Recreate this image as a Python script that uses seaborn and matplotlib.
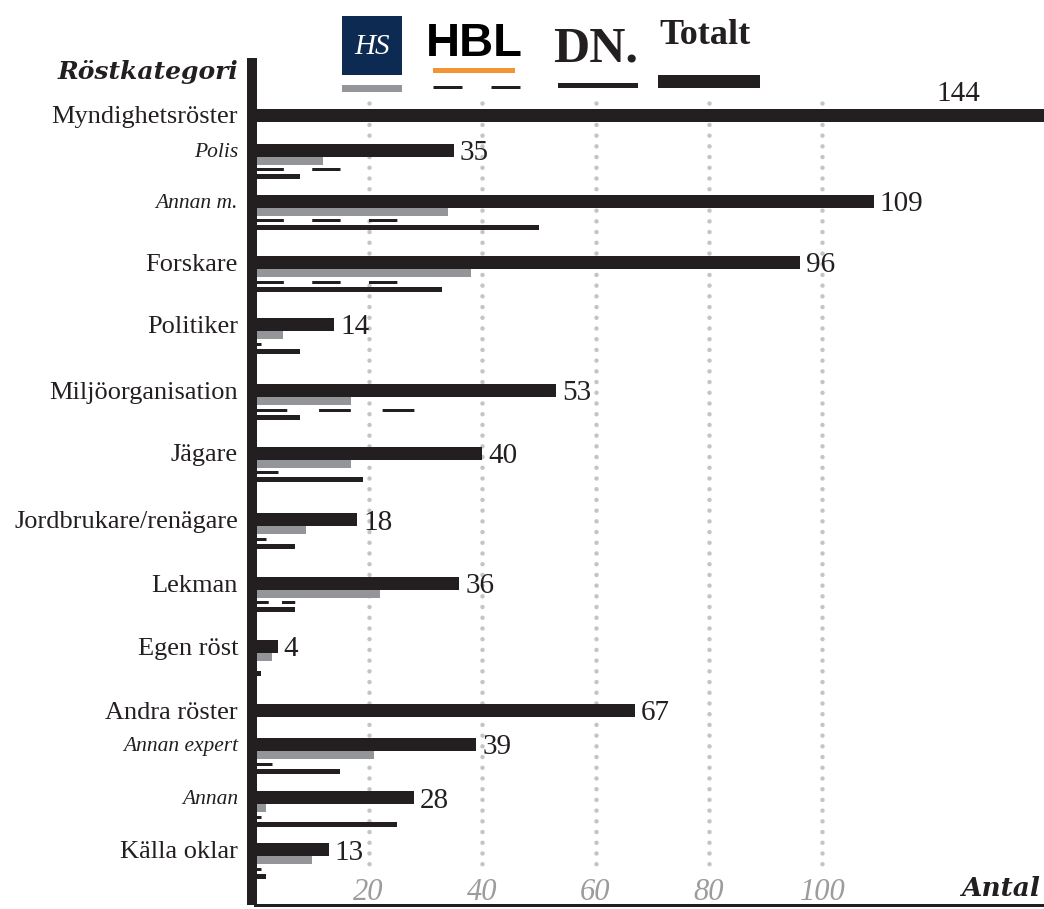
import matplotlib
matplotlib.use("Agg")
import matplotlib.pyplot as plt
import seaborn as sns
import pandas as pd
import numpy as np
from matplotlib.patches import Rectangle
from matplotlib.lines import Line2D

# ---- data ----
categories = ["Myndighetsröster", "Polis", "Annan m.", "Forskare", "Politiker",
              "Miljöorganisation", "Jägare", "Jordbrukare/renägare", "Lekman",
              "Egen röst", "Andra röster", "Annan expert", "Annan", "Källa oklar"]
is_sub = [False, True, True, False, False, False, False, False, False,
          False, False, True, True, False]
totalt = [144, 35, 109, 96, 14, 53, 40, 18, 36, 4, 67, 39, 28, 13]
hs = [np.nan, 12, 34, 38, 5, 17, 17, 9, 22, 3, np.nan, 21, 2, 10]
hbl = [np.nan, 15, 25, 25, 1, 28, 4, 2, 7, 0, np.nan, 3, 1, 1]
dn = [np.nan, 8, 50, 33, 8, 8, 19, 7, 7, 1, np.nan, 15, 25, 2]
x_ticks = [20, 40, 60, 80, 100]

# ---- layout (figure pixels) ----
W, H, DPI = 1044, 909, 100
row_y = [115, 150, 201, 262.5, 324.5, 390.5, 453, 519.5, 583, 646.5,
         710.5, 744.5, 797.5, 849.5]
X0, AX_TOP, AX_BOT = 255, 58, 905
PX_PER_UNIT = 5.675
BLACK, GREY, ORANGE, NAVY = "#231f20", "#939598", "#f39433", "#0d2b52"
SERIF = ["Liberation Serif", "DejaVu Serif"]


def pt(px):
    return px * 72 / DPI


def fx(x):
    return x / W


def fy(y):
    return 1 - y / H


sns.set_style("white")
plt.rcParams["font.family"] = SERIF
plt.rcParams["lines.scale_dashes"] = False

fig = plt.figure(figsize=(W / DPI, H / DPI), dpi=DPI)
ax = fig.add_axes([fx(X0), fy(AX_BOT), (W - X0) / W, (AX_BOT - AX_TOP) / H])

df = pd.DataFrame({"kategori": categories, "y": row_y, "Totalt": totalt,
                   "HS": hs, "HBL": hbl, "DN": dn})


def draw_bars(col, offset, thick, color):
    d = df.dropna(subset=[col]).assign(pos=lambda t: t["y"] + offset)
    step = np.diff(np.sort(d["pos"].unique())).min()
    sns.barplot(data=d, x=col, y="pos", orient="y", native_scale=True,
                width=thick / step, color=color, saturation=1,
                errorbar=None, linewidth=0, ax=ax, zorder=2)


draw_bars("Totalt", 0, 13, BLACK)
draw_bars("HS", 10.5, 8, GREY)
draw_bars("DN", 26.5, 5, BLACK)

# HBL as dashed lines, dash length fitted to the bar length
for y, v in zip(row_y, hbl):
    if not v > 0:
        continue
    length = v * PX_PER_UNIT
    n = 1 if length < 35 else (3 if length < 110 else 5)
    ls = "-" if n == 1 else (0, (pt(length / n), pt(length / n)))
    ax.plot([0, v], [y + 19, y + 19], color=BLACK, lw=pt(3), linestyle=ls,
            solid_capstyle="butt", dash_capstyle="butt", zorder=2)

xmax = (W - X0) / PX_PER_UNIT
ax.set_xlim(0, xmax)
ax.set_ylim(AX_BOT, AX_TOP)

# dotted grid
grid = ax.vlines(x_ticks, 103, 866, colors="#c4c4c4", lw=pt(4.5),
                 linestyles=[(0, (0.01, pt(10.7)))], zorder=0.5)
grid.set_capstyle("round")

# value labels
for y, v in zip(row_y, totalt):
    if v > xmax:
        ax.text(xmax - 15, y - 21, str(v), ha="center", va="center",
                fontsize=21, color=BLACK)
    else:
        ax.annotate(str(v), (v, y), xytext=(pt(6), -pt(3)), textcoords="offset points",
                    ha="left", va="center", fontsize=21, color=BLACK)

# x tick labels drawn inside the axes
for t in x_ticks:
    ax.text(t, 893, str(t), ha="center", va="center", fontsize=22,
            fontstyle="italic", color="#9c9c9c")

# category labels
ax.set_xticks([])
ax.set_yticks([])
lab_x = -(X0 - 238) / (W - X0)
for y, name, sub in zip(row_y, categories, is_sub):
    ax.text(lab_x, y, name, transform=ax.get_yaxis_transform(),
            ha="right", va="center_baseline", color=BLACK,
            fontsize=15.5 if sub else 19,
            fontstyle="italic" if sub else "normal")
ax.set_xlabel("")
ax.set_ylabel("")

for side in ["top", "right"]:
    ax.spines[side].set_visible(False)
ax.spines["left"].set_linewidth(pt(10))
ax.spines["left"].set_color(BLACK)
ax.spines["left"].set_capstyle("butt")
ax.spines["left"].set_position(("outward", pt(3)))
ax.spines["bottom"].set_linewidth(pt(3))
ax.spines["bottom"].set_color(BLACK)

# axis titles
fig.text(fx(238), fy(72), "Röstkategori", ha="right", va="center",
         family="DejaVu Serif", fontweight="bold", fontstyle="italic",
         fontsize=18, color=BLACK)
fig.text(fx(1040), fy(896), "Antal", ha="right", va="baseline",
         family="DejaVu Serif", fontweight="bold", fontstyle="italic",
         fontsize=19, color=BLACK)


# ---- legend (logos + line samples) ----
def add_rect(x0, y0, x1, y1, color):
    fig.add_artist(Rectangle((fx(x0), fy(y1)), (x1 - x0) / W, (y1 - y0) / H,
                             transform=fig.transFigure, color=color, lw=0))


add_rect(342, 16, 402, 75, NAVY)
fig.text(fx(372), fy(47), "HS", ha="center", va="center", color="white",
         fontstyle="italic", fontsize=21)
add_rect(342, 85, 402, 92, GREY)

fig.text(fx(474), fy(44), "HBL", ha="center", va="center", color="black",
         family="Liberation Sans", fontweight="bold", fontsize=34)
add_rect(433, 68, 515, 73, ORANGE)
fig.add_artist(Line2D([fx(433), fx(520)], [fy(87), fy(87)],
                      transform=fig.transFigure, color=BLACK, lw=pt(3),
                      linestyle=(0, (pt(29), pt(29))), dash_capstyle="butt"))

fig.text(fx(596), fy(49), "DN.", ha="center", va="center", color=BLACK,
         fontweight="bold", fontsize=36)
add_rect(558, 83, 638, 88, BLACK)

fig.text(fx(705), fy(35), "Totalt", ha="center", va="center", color=BLACK,
         fontweight="bold", fontsize=26)
add_rect(658, 75, 760, 88, BLACK)

fig.savefig("out.png", dpi=DPI)
